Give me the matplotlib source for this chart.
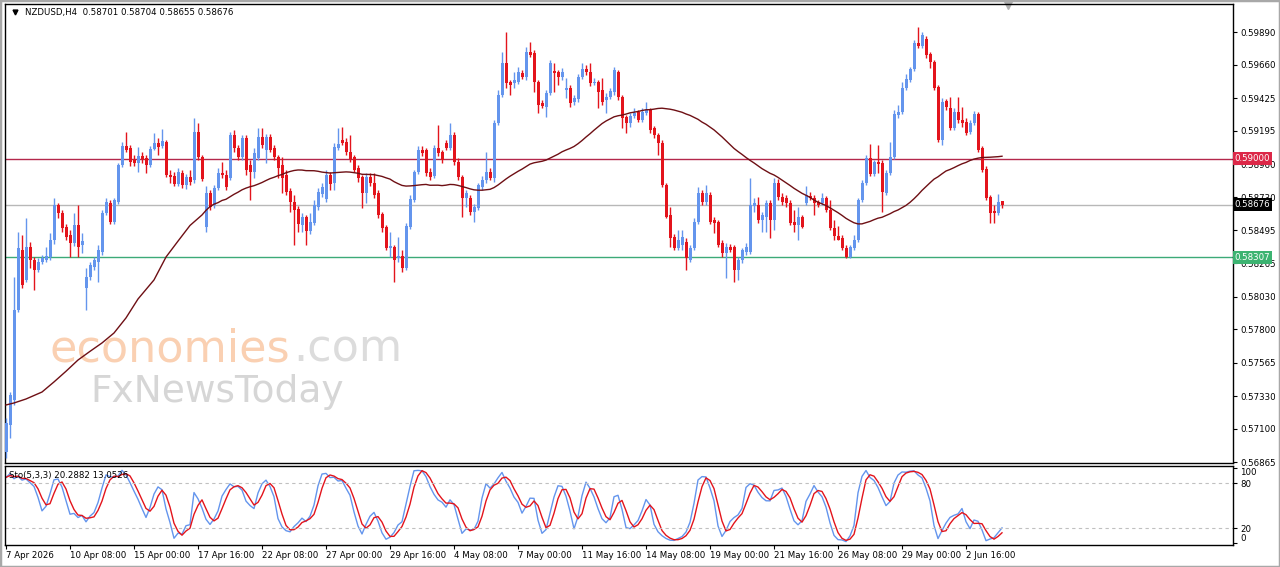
import numpy as np
import pandas as pd
import matplotlib
matplotlib.use("Agg")
import matplotlib.pyplot as plt
from matplotlib.transforms import blended_transform_factory
from matplotlib.patches import Rectangle

# === 1) NZDUSD H4 candles ===
opens = [
    0.56937, 0.57127, 0.57303, 0.57936, 0.58357, 0.58147, 0.58379, 0.58287, 0.58217, 0.58273,
    0.58287, 0.58308, 0.58428, 0.58674, 0.58618, 0.58519, 0.58463, 0.58407, 0.58533, 0.58393,
    0.58090, 0.58168, 0.58238, 0.58273, 0.58343, 0.58618, 0.58688, 0.58554, 0.58695, 0.58955,
    0.59089, 0.59075, 0.58990, 0.58969, 0.59018, 0.59004, 0.58955, 0.59068, 0.59110, 0.59089,
    0.59117, 0.58885, 0.58878, 0.58822, 0.58899, 0.58814, 0.58871, 0.58850, 0.59187, 0.59011,
    0.58519, 0.58758, 0.58674, 0.58793, 0.58899, 0.58885, 0.58864, 0.59166, 0.59075, 0.59011,
    0.59145, 0.58955, 0.58906, 0.59004, 0.59152, 0.59061, 0.59152, 0.59075, 0.59011, 0.58955,
    0.58885, 0.58772, 0.58695, 0.58646, 0.58533, 0.58590, 0.58491, 0.58547, 0.58660, 0.58751,
    0.58716, 0.58885, 0.58829, 0.59075, 0.59131, 0.59117, 0.59046, 0.59011, 0.58934, 0.58871,
    0.58758, 0.58871, 0.58829, 0.58758, 0.58611, 0.58519, 0.58372, 0.58379, 0.58301, 0.58315,
    0.58231, 0.58519, 0.58709, 0.58906, 0.59061, 0.59061, 0.58906, 0.58878, 0.59075, 0.59046,
    0.59110, 0.59075, 0.59166, 0.58976, 0.58871, 0.58723, 0.58723, 0.58625, 0.58653, 0.58800,
    0.58850, 0.58906, 0.58864, 0.59250, 0.59447, 0.59672, 0.59538, 0.59531, 0.59538, 0.59602,
    0.59574, 0.59749, 0.59742, 0.59538, 0.59391, 0.59363, 0.59461, 0.59616, 0.59609, 0.59574,
    0.59482, 0.59496, 0.59398, 0.59419, 0.59574, 0.59630, 0.59609, 0.59531, 0.59538, 0.59482,
    0.59412, 0.59433, 0.59468, 0.59609, 0.59433, 0.59292, 0.59250, 0.59300, 0.59328, 0.59271,
    0.59321, 0.59342, 0.59215, 0.59166, 0.59110, 0.58814, 0.58604, 0.58449, 0.58372, 0.58393,
    0.58414, 0.58287, 0.58372, 0.58554, 0.58758, 0.58695, 0.58744, 0.58569, 0.58554, 0.58407,
    0.58336, 0.58379, 0.58379, 0.58217, 0.58287, 0.58343, 0.58343, 0.58667, 0.58674, 0.58569,
    0.58590, 0.58688, 0.58569, 0.58829, 0.58730, 0.58723, 0.58688, 0.58554, 0.58533, 0.58590,
    0.58688, 0.58737, 0.58723, 0.58695, 0.58688, 0.58723, 0.58639, 0.58512, 0.58456, 0.58442,
    0.58372, 0.58308, 0.58372, 0.58428, 0.58709, 0.58829, 0.59004, 0.58892, 0.58976, 0.58969,
    0.58758, 0.58899, 0.59011, 0.59307, 0.59328, 0.59496, 0.59553, 0.59630, 0.59813, 0.59792,
    0.59841, 0.59735, 0.59679, 0.59503, 0.59131, 0.59405, 0.59356, 0.59215, 0.59328, 0.59271,
    0.59257, 0.59187, 0.59250, 0.59314, 0.59075, 0.58927, 0.58730, 0.58632, 0.58618, 0.58701,
]
highs = [
    0.57176, 0.57359, 0.58168, 0.58484, 0.58463, 0.58582, 0.58414, 0.58308, 0.58301, 0.58322,
    0.58379, 0.58477, 0.58723, 0.58688, 0.58639, 0.58540, 0.58498, 0.58618, 0.58674, 0.58477,
    0.58231, 0.58273, 0.58308, 0.58393, 0.58639, 0.58723, 0.58709, 0.58723, 0.58969, 0.59117,
    0.59187, 0.59096, 0.59025, 0.59082, 0.59046, 0.59025, 0.59089, 0.59180, 0.59145, 0.59208,
    0.59131, 0.58920, 0.58906, 0.58934, 0.58920, 0.58892, 0.58920, 0.59285, 0.59250, 0.59025,
    0.58807, 0.58779, 0.58814, 0.58934, 0.58976, 0.58920, 0.59187, 0.59201, 0.59096, 0.59166,
    0.59166, 0.58990, 0.59075, 0.59215, 0.59215, 0.59173, 0.59173, 0.59096, 0.59025, 0.59011,
    0.58920, 0.58793, 0.58744, 0.58667, 0.58618, 0.58604, 0.58618, 0.58709, 0.58793, 0.58829,
    0.58920, 0.58906, 0.59110, 0.59215, 0.59222, 0.59145, 0.59166, 0.59025, 0.58955, 0.58885,
    0.58899, 0.58899, 0.58899, 0.58779, 0.58625, 0.58533, 0.58484, 0.58393, 0.58449, 0.58357,
    0.58547, 0.58744, 0.58920, 0.59089, 0.59089, 0.59075, 0.58934, 0.59096, 0.59236, 0.59061,
    0.59131, 0.59250, 0.59187, 0.59004, 0.58885, 0.58779, 0.58744, 0.58681, 0.58829, 0.58878,
    0.59046, 0.58934, 0.59271, 0.59482, 0.59749, 0.59890, 0.59553, 0.59609, 0.59644, 0.59623,
    0.59785, 0.59820, 0.59763, 0.59553, 0.59412, 0.59482, 0.59693, 0.59672, 0.59623, 0.59637,
    0.59567, 0.59517, 0.59447, 0.59595, 0.59672, 0.59658, 0.59672, 0.59567, 0.59553, 0.59567,
    0.59461, 0.59496, 0.59644, 0.59623, 0.59447, 0.59307, 0.59321, 0.59356, 0.59342, 0.59356,
    0.59398, 0.59356, 0.59229, 0.59180, 0.59131, 0.58829, 0.58660, 0.58470, 0.58498, 0.58498,
    0.58442, 0.58393, 0.58582, 0.58800, 0.58779, 0.58814, 0.58765, 0.58590, 0.58569, 0.58428,
    0.58407, 0.58400, 0.58393, 0.58308, 0.58372, 0.58407, 0.58864, 0.58723, 0.58730, 0.58625,
    0.58709, 0.58709, 0.58864, 0.58857, 0.58758, 0.58744, 0.58709, 0.58639, 0.58660, 0.58604,
    0.58807, 0.58765, 0.58744, 0.58709, 0.58758, 0.58737, 0.58709, 0.58569, 0.58526, 0.58463,
    0.58393, 0.58393, 0.58463, 0.58723, 0.58850, 0.59025, 0.59103, 0.58990, 0.59096, 0.58990,
    0.58920, 0.59117, 0.59342, 0.59377, 0.59538, 0.59595, 0.59644, 0.59834, 0.59925, 0.59890,
    0.59862, 0.59749, 0.59693, 0.59517, 0.59426, 0.59419, 0.59433, 0.59356, 0.59433, 0.59363,
    0.59285, 0.59271, 0.59335, 0.59328, 0.59089, 0.58948, 0.58744, 0.58674, 0.58751, 0.58704,
]
lows = [
    0.56895, 0.57036, 0.57268, 0.57922, 0.58090, 0.58132, 0.58231, 0.58076, 0.58203, 0.58259,
    0.58273, 0.58287, 0.58400, 0.58582, 0.58484, 0.58428, 0.58308, 0.58386, 0.58308, 0.58336,
    0.57936, 0.58147, 0.58217, 0.58132, 0.58322, 0.58604, 0.58540, 0.58540, 0.58681, 0.58941,
    0.59046, 0.58948, 0.58948, 0.58906, 0.58969, 0.58899, 0.58941, 0.59061, 0.59025, 0.59075,
    0.58871, 0.58829, 0.58807, 0.58807, 0.58793, 0.58786, 0.58814, 0.58829, 0.58990, 0.58843,
    0.58484, 0.58639, 0.58653, 0.58779, 0.58864, 0.58779, 0.58850, 0.59046, 0.58990, 0.58990,
    0.58885, 0.58709, 0.58864, 0.58990, 0.59075, 0.58969, 0.59046, 0.58990, 0.58864, 0.58758,
    0.58744, 0.58625, 0.58393, 0.58484, 0.58484, 0.58393, 0.58470, 0.58533, 0.58639, 0.58730,
    0.58695, 0.58779, 0.58779, 0.59061, 0.59096, 0.59025, 0.58976, 0.58906, 0.58836, 0.58653,
    0.58688, 0.58807, 0.58723, 0.58582, 0.58484, 0.58357, 0.58308, 0.58132, 0.58273, 0.58203,
    0.58217, 0.58505, 0.58695, 0.58892, 0.59018, 0.58878, 0.58850, 0.58864, 0.59018, 0.58969,
    0.59061, 0.59061, 0.58955, 0.58850, 0.58590, 0.58660, 0.58604, 0.58554, 0.58639, 0.58779,
    0.58829, 0.58850, 0.58836, 0.59236, 0.59433, 0.59496, 0.59447, 0.59496, 0.59524, 0.59560,
    0.59553, 0.59714, 0.59468, 0.59321, 0.59356, 0.59292, 0.59447, 0.59468, 0.59517, 0.59553,
    0.59426, 0.59363, 0.59377, 0.59398, 0.59560, 0.59588, 0.59510, 0.59517, 0.59356, 0.59377,
    0.59321, 0.59419, 0.59447, 0.59412, 0.59215, 0.59180, 0.59222, 0.59285, 0.59257, 0.59257,
    0.59307, 0.59180, 0.59145, 0.59025, 0.58800, 0.58582, 0.58379, 0.58357, 0.58357, 0.58357,
    0.58217, 0.58273, 0.58357, 0.58540, 0.58674, 0.58674, 0.58540, 0.58477, 0.58379, 0.58308,
    0.58161, 0.58343, 0.58132, 0.58147, 0.58266, 0.58322, 0.58329, 0.58625, 0.58547, 0.58484,
    0.58484, 0.58442, 0.58498, 0.58709, 0.58674, 0.58660, 0.58533, 0.58484, 0.58428, 0.58512,
    0.58674, 0.58709, 0.58604, 0.58660, 0.58674, 0.58625, 0.58498, 0.58428, 0.58428, 0.58357,
    0.58301, 0.58301, 0.58357, 0.58414, 0.58695, 0.58814, 0.58878, 0.58878, 0.58899, 0.58625,
    0.58744, 0.58885, 0.58997, 0.59285, 0.59314, 0.59482, 0.59538, 0.59616, 0.59778, 0.59778,
    0.59707, 0.59637, 0.59482, 0.59117, 0.59096, 0.59342, 0.59201, 0.59201, 0.59250, 0.59222,
    0.59166, 0.59173, 0.59236, 0.59046, 0.58906, 0.58709, 0.58547, 0.58547, 0.58604, 0.58655,
]
closes = [
    0.57141, 0.57338, 0.57936, 0.58372, 0.58111, 0.58379, 0.58287, 0.58217, 0.58273, 0.58301,
    0.58315, 0.58428, 0.58674, 0.58618, 0.58512, 0.58449, 0.58407, 0.58533, 0.58379, 0.58421,
    0.58168, 0.58252, 0.58287, 0.58357, 0.58618, 0.58695, 0.58554, 0.58709, 0.58955, 0.59089,
    0.59061, 0.58976, 0.58969, 0.59018, 0.58997, 0.58955, 0.59068, 0.59110, 0.59082, 0.59124,
    0.58885, 0.58871, 0.58822, 0.58906, 0.58814, 0.58871, 0.58835, 0.59187, 0.59011, 0.58857,
    0.58758, 0.58660, 0.58793, 0.58899, 0.58885, 0.58800, 0.59166, 0.59075, 0.59011, 0.59145,
    0.58920, 0.58906, 0.59039, 0.59152, 0.59096, 0.59152, 0.59061, 0.59011, 0.58934, 0.58864,
    0.58765, 0.58695, 0.58639, 0.58540, 0.58590, 0.58491, 0.58554, 0.58674, 0.58765, 0.58800,
    0.58885, 0.58822, 0.59082, 0.59103, 0.59110, 0.59046, 0.58997, 0.58920, 0.58864, 0.58758,
    0.58871, 0.58829, 0.58744, 0.58604, 0.58512, 0.58372, 0.58386, 0.58287, 0.58315, 0.58231,
    0.58526, 0.58716, 0.58906, 0.59061, 0.59039, 0.58899, 0.58871, 0.59075, 0.59039, 0.58990,
    0.59075, 0.59166, 0.58976, 0.58871, 0.58723, 0.58758, 0.58625, 0.58660, 0.58814, 0.58850,
    0.58906, 0.58864, 0.59250, 0.59447, 0.59672, 0.59531, 0.59517, 0.59553, 0.59609, 0.59574,
    0.59749, 0.59728, 0.59538, 0.59377, 0.59370, 0.59461, 0.59672, 0.59602, 0.59574, 0.59609,
    0.59496, 0.59391, 0.59426, 0.59574, 0.59630, 0.59609, 0.59531, 0.59538, 0.59468, 0.59398,
    0.59433, 0.59475, 0.59623, 0.59433, 0.59285, 0.59250, 0.59300, 0.59321, 0.59271, 0.59328,
    0.59342, 0.59201, 0.59166, 0.59110, 0.58814, 0.58590, 0.58442, 0.58372, 0.58428, 0.58449,
    0.58301, 0.58372, 0.58554, 0.58758, 0.58695, 0.58758, 0.58554, 0.58547, 0.58393, 0.58336,
    0.58379, 0.58357, 0.58217, 0.58287, 0.58357, 0.58379, 0.58674, 0.58688, 0.58569, 0.58604,
    0.58688, 0.58569, 0.58829, 0.58730, 0.58695, 0.58688, 0.58547, 0.58533, 0.58590, 0.58519,
    0.58744, 0.58723, 0.58688, 0.58674, 0.58723, 0.58639, 0.58512, 0.58456, 0.58428, 0.58372,
    0.58308, 0.58379, 0.58428, 0.58709, 0.58829, 0.59004, 0.58892, 0.58976, 0.58962, 0.58765,
    0.58899, 0.59011, 0.59314, 0.59328, 0.59496, 0.59560, 0.59630, 0.59813, 0.59792, 0.59869,
    0.59728, 0.59679, 0.59496, 0.59131, 0.59398, 0.59363, 0.59215, 0.59328, 0.59271, 0.59250,
    0.59180, 0.59250, 0.59314, 0.59061, 0.58920, 0.58723, 0.58618, 0.58618, 0.58695, 0.58676,
]

# start of the 50-bar moving average (its history lies left of the window)
ma_head_bars = [0, 2, 5, 9, 12, 15, 18, 21, 24, 27, 30, 33, 37, 40, 43, 46]
ma_head_vals = [0.57268, 0.57282, 0.57310, 0.57359, 0.57430, 0.57505, 0.57584, 0.57645,
                0.57704, 0.57774, 0.57880, 0.58013, 0.58147, 0.58308, 0.58420, 0.58530]
MA_PERIOD = 50

resistance = 0.59000
support = 0.58307
last_price = 0.58676

price_ticks = [0.59890, 0.59660, 0.59425, 0.59195, 0.58960, 0.58730, 0.58495,
               0.58265, 0.58030, 0.57800, 0.57565, 0.57330, 0.57100, 0.56865]
date_bars = list(range(0, 241, 16))
date_labels = ["7 Apr 2026", "10 Apr 08:00", "15 Apr 00:00", "17 Apr 16:00", "22 Apr 08:00",
               "27 Apr 00:00", "29 Apr 16:00", "4 May 08:00", "7 May 00:00", "11 May 16:00",
               "14 May 08:00", "19 May 00:00", "21 May 16:00", "26 May 08:00", "29 May 00:00",
               "2 Jun 16:00"]

BLUE = "#6495ED"
RED = "#E3141C"
FS = 6.2

df = pd.DataFrame({"open": opens, "high": highs, "low": lows, "close": closes})
x = np.arange(len(df))

# SMA 50 where the window is complete, read values before that
sma = df["close"].rolling(MA_PERIOD).mean()
ma_x = ma_head_bars + list(x[MA_PERIOD - 1:])
ma_y = ma_head_vals + list(sma.iloc[MA_PERIOD - 1:])

# === 2) Stochastic 5,3,3 (MT4 style) ===
ll = df["low"].rolling(5, min_periods=1).min()
hh = df["high"].rolling(5, min_periods=1).max()
k = 100 * (df["close"] - ll).rolling(3, min_periods=1).sum() / (hh - ll).rolling(3, min_periods=1).sum()
d = k.rolling(3, min_periods=1).mean()

fig = plt.figure(figsize=(12.8, 5.67), dpi=100)
ax = fig.add_axes([5 / 1280, 1 - 463 / 567, 1228 / 1280, 459 / 567])
ax2 = fig.add_axes([5 / 1280, 1 - 545 / 567, 1228 / 1280, 79 / 567])
fig.patches.append(Rectangle((0, 0), 1, 1, transform=fig.transFigure, fill=False,
                             edgecolor="#A8A8A8", linewidth=2.5))

# watermark behind everything
ax.text(50 / 1280, 1 - 362 / 567, "economies", transform=fig.transFigure, fontsize=32,
        color="#FAD0B2", zorder=0.5)
ax.text(293 / 1280, 1 - 362 / 567, ".com", transform=fig.transFigure, fontsize=32,
        color="#DCDCDC", zorder=0.5)
ax.text(90 / 1280, 1 - 402 / 567, "FxNewsToday", transform=fig.transFigure, fontsize=27,
        color="#D6D6D6", zorder=0.5)

# === 3) Candles ===
up = df["close"] >= df["open"]
col = np.where(up, BLUE, RED)
ax.vlines(x, df["low"], df["high"], colors=col, linewidth=1, zorder=3)
body_low = np.minimum(df["open"], df["close"])
body_h = np.maximum((df["close"] - df["open"]).abs(), 0.00006)
ax.bar(x, body_h, width=0.75, bottom=body_low, color=col, linewidth=0, zorder=3)

ax.plot(ma_x, ma_y, color="#6E0F14", linewidth=1, zorder=4)

ax.axhline(resistance, color="#B4284B", linewidth=1, zorder=2)
ax.axhline(last_price, color="#B8B8B8", linewidth=1, zorder=2)
ax.axhline(support, color="#3CAA78", linewidth=1, zorder=2)

ax.set_xlim(-0.25, 306.75)
ax.set_ylim(0.56860, 0.60087)
ax.set_xticks([])
ax.yaxis.tick_right()
ax.set_yticks(price_ticks)
ax.set_yticklabels([f"{p:.5f}" for p in price_ticks])
ax.tick_params(axis="y", length=3, width=0.8, pad=2, labelsize=FS)
for s in ax.spines.values():
    s.set_linewidth(1)

tr = blended_transform_factory(ax.transAxes, ax.transData)
for val, bg in [(resistance, "#DC2848"), (last_price, "#000000"), (support, "#3CB371")]:
    ax.text(1.0015, val, f"{val:.5f}", transform=tr, fontsize=FS, color="white",
            va="center", ha="left", zorder=6, clip_on=False,
            bbox=dict(boxstyle="square,pad=0.22", facecolor=bg, edgecolor="none"))

ax.text(20 / 1228, 1 - 8 / 459, "NZDUSD,H4  0.58701 0.58704 0.58655 0.58676",
        transform=ax.transAxes, fontsize=FS, va="center", ha="left")
ax.plot([10 / 1228], [1 - 8 / 459], marker="v", color="black", markersize=3.5,
        transform=ax.transAxes, clip_on=False)
tri = blended_transform_factory(ax.transData, ax.transAxes)
ax.plot([250.5], [0.997], marker="v", color="#B0B0B0", markersize=6,
        transform=tri, clip_on=False)

# === 4) Stochastic panel ===
ax2.plot(x, k, color=BLUE, linewidth=1)
ax2.plot(x, d, color=RED, linewidth=1)
for lvl in (20, 80):
    ax2.axhline(lvl, color="#C0C0C0", linewidth=0.8, linestyle=(0, (3, 3)))
ax2.set_xlim(-0.25, 306.75)
ax2.set_ylim(-2.6, 102.7)
ax2.yaxis.tick_right()
ax2.set_yticks([0, 20, 80, 100])
ax2.set_yticklabels(["0", "20", "80", "100"])
ax2.tick_params(axis="y", length=3, width=0.8, pad=2, labelsize=FS)
labs = ax2.get_yticklabels()
labs[0].set_verticalalignment("bottom")
labs[3].set_verticalalignment("top")
ax2.set_xticks(date_bars)
ax2.set_xticklabels(date_labels, ha="left")
ax2.tick_params(axis="x", length=3, width=0.8, pad=1.5, labelsize=FS)
for s in ax2.spines.values():
    s.set_linewidth(1)
ax2.text(4 / 1228, 0.88, "Sto(5,3,3) 20.2882 13.0526", transform=ax2.transAxes,
         fontsize=FS, va="center", ha="left")

fig.savefig("out.png", dpi=100)
